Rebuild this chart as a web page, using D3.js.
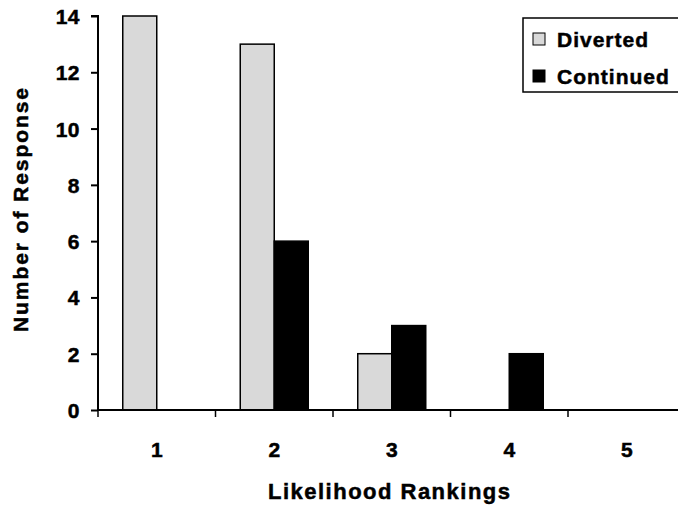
<!DOCTYPE html>
<html><head><meta charset="utf-8">
<script src="https://cdn.jsdelivr.net/npm/d3@7"></script>
<style>
html,body{margin:0;padding:0;background:#fff;overflow:hidden}
svg{display:block;font-family:"Liberation Sans",Arial,sans-serif;font-weight:bold}
text{stroke:#000;stroke-width:0.5px;fill:#000}
</style></head><body>
<svg id="c" width="678" height="508"></svg>
<script>
const categories = ["1","2","3","4","5"];
const seriesNames = ["Diverted","Continued"];
const diverted = [14,13,2,0,0];
const continued = [0,6,3,2,0];
const yTicks = [0,2,4,6,8,10,12,14];
const colors = {Diverted:"#d9d9d9", Continued:"#000000"};

const svg = d3.select("#c");
const mLeft = 98, mTop = 16, mBottom = 410, bandW = 117.5;
const x = d3.scaleBand().domain(categories).range([mLeft, mLeft + bandW*categories.length]).paddingInner(0).paddingOuter(0);
const y = d3.scaleLinear().domain([0,14]).range([mBottom, mTop]);
const barW = 34;
const xs = d3.scaleBand().domain(seriesNames).range([0, barW*2]);

const data = categories.map((c,i)=>({c, vals:[{s:"Diverted",v:diverted[i]},{s:"Continued",v:continued[i]}]}));
const g = svg.append("g");
data.forEach(d=>{
  const off = x(d.c) + (x.bandwidth() - barW*2)/2;
  d.vals.forEach(p=>{
    if(p.v<=0) return;
    g.append("rect")
      .attr("x", off + xs(p.s))
      .attr("y", y(p.v))
      .attr("width", barW)
      .attr("height", y(0)-y(p.v))
      .attr("fill", colors[p.s])
      .attr("stroke", "#000").attr("stroke-width", 1.5);
  });
});

// y axis
const yAxis = d3.axisLeft(y).tickValues(yTicks).tickSize(7).tickPadding(11).tickFormat(d3.format("d"));
const ya = svg.append("g").attr("transform",`translate(${mLeft},0)`).call(yAxis);
ya.select(".domain").attr("stroke","#000").attr("stroke-width",2).attr("d",`M-7,${mTop}H0V${mBottom}`);
ya.selectAll(".tick line").attr("stroke-width",2);
ya.selectAll("text").attr("font-size",21).attr("letter-spacing",0.5).attr("font-weight","bold").attr("fill","#000").attr("font-family","Liberation Sans, Arial, sans-serif").attr("dy","0.36em");

// x axis
const xa = svg.append("g").attr("transform",`translate(0,${mBottom})`);
xa.append("line").attr("x1",mLeft).attr("x2",690).attr("y1",0).attr("y2",0).attr("stroke","#000").attr("stroke-width",2);
const bounds = categories.map(c=>x(c));
xa.selectAll("line.tk").data(bounds).enter().append("line").attr("class","tk")
  .attr("x1",d=>d).attr("x2",d=>d).attr("y1",0).attr("y2",7).attr("stroke","#000").attr("stroke-width",1.5);
xa.selectAll("text").data(categories).enter().append("text")
  .attr("x",d=>x(d)+x.bandwidth()/2).attr("y",47).attr("text-anchor","middle")
  .attr("font-size",21).text(d=>d);

// axis titles
svg.append("text").attr("x",389).attr("y",499).attr("text-anchor","middle").attr("font-size",22)
  .attr("textLength",242).attr("lengthAdjust","spacing").text("Likelihood Rankings");
svg.append("text").attr("transform","translate(28,210) rotate(-90)").attr("text-anchor","middle").attr("font-size",21)
  .attr("textLength",244).attr("lengthAdjust","spacing").text("Number of Response");

// legend
const lg = svg.append("g");
lg.append("rect").attr("x",523).attr("y",18).attr("width",170).attr("height",74).attr("fill","#fff").attr("stroke","#000").attr("stroke-width",1.5);
seriesNames.forEach((s,i)=>{
  const yy = 39 + i*37;
  lg.append("rect").attr("x",533).attr("y",yy-6).attr("width",12).attr("height",12).attr("fill",colors[s]).attr("stroke","#000").attr("stroke-width",1);
  lg.append("text").attr("x",557).attr("y",yy+8).attr("font-size",21).attr("letter-spacing",1).text(s);
});
</script>
</body></html>
